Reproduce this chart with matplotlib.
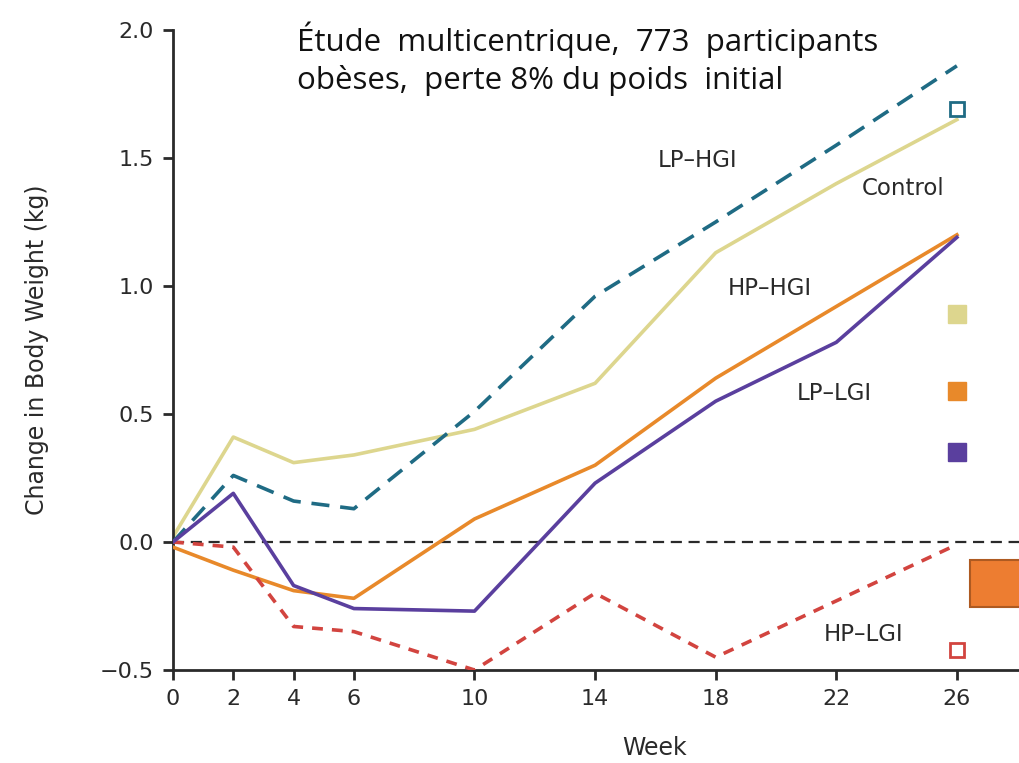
import matplotlib.pyplot as plt
from matplotlib.patches import Rectangle

# ── Data ───────────────────────────────────────────────────────────────────────
WEEKS = [0, 2, 4, 6, 10, 14, 18, 22, 26]

CONTROL = [0.02, 0.41, 0.31, 0.34, 0.44, 0.62, 1.13, 1.40, 1.65]
LP_HGI  = [0.00, 0.26, 0.16, 0.13, 0.51, 0.96, 1.25, 1.55, 1.86]
HP_HGI  = [-0.02, -0.11, -0.19, -0.22, 0.09, 0.30, 0.64, 0.92, 1.20]
LP_LGI  = [0.00, 0.19, -0.17, -0.26, -0.27, 0.23, 0.55, 0.78, 1.19]
HP_LGI  = [0.00, -0.02, -0.33, -0.35, -0.50, -0.20, -0.45, -0.23, -0.01]

Y_TICKS = [-0.5, 0.0, 0.5, 1.0, 1.5, 2.0]

C_CONTROL = "#ddd68e"
C_LPHGI   = "#1f6b84"
C_HPHGI   = "#e8892a"
C_LPLGI   = "#5a3f9e"
C_HPLGI   = "#d2443f"
INK       = "#2a2a2a"

# ── Plot ───────────────────────────────────────────────────────────────────────
fig = plt.figure(figsize=(10.19, 7.63), dpi=100)
ax = fig.add_axes([173 / 1019, 1 - 670 / 763, 1 - 173 / 1019, (670 - 30) / 763])

ax.axhline(0, color=INK, linewidth=1.6, linestyle=(0, (5, 3)), zorder=1)

ax.plot(WEEKS, CONTROL, color=C_CONTROL, linewidth=2.6, zorder=2)
ax.plot(WEEKS, LP_HGI, color=C_LPHGI, linewidth=2.6, linestyle=(0, (5, 3)), zorder=3)
ax.plot(WEEKS, HP_HGI, color=C_HPHGI, linewidth=2.6, zorder=3)
ax.plot(WEEKS, LP_LGI, color=C_LPLGI, linewidth=2.6, zorder=4)
ax.plot(WEEKS, HP_LGI, color=C_HPLGI, linewidth=2.6, linestyle=(0, (3, 2.5)), zorder=3)

ax.set_xlim(0, 28.06)
ax.set_ylim(-0.5, 2.0)
ax.set_xticks(WEEKS)
ax.set_yticks(Y_TICKS)
ax.set_yticklabels([f"{v:.1f}".replace("-", "\u2212") for v in Y_TICKS])
ax.spines["top"].set_visible(False)
ax.spines["right"].set_visible(False)
for s in ("left", "bottom"):
    ax.spines[s].set_linewidth(2.0)
    ax.spines[s].set_color(INK)
ax.tick_params(direction="out", length=7, width=2, colors=INK,
               labelsize=16, pad=7)

ax.set_ylabel("Change in Body Weight (kg)", fontsize=17, color=INK)
ax.yaxis.set_label_coords(-136 / 846, 0.5)
ax.set_xlabel("Week", fontsize=17, color=INK)
ax.xaxis.set_label_coords((655 - 173) / 846, -(748 - 670) / 640)
ax.xaxis.label.set_va("center")
ax.yaxis.label.set_va("center")

# line labels
lab = dict(fontsize=16.5, color=INK, ha="center", va="center")
ax.text(17.4, 1.49, "LP\u2013HGI", **lab)
ax.text(24.2, 1.38, "Control", **lab)
ax.text(19.8, 0.99, "HP\u2013HGI", **lab)
ax.text(21.95, 0.58, "LP\u2013LGI", **lab)
ax.text(22.9, -0.36, "HP\u2013LGI", **lab)

# key markers at the right
ax.plot([26.0], [1.69], marker="s", markersize=10, markerfacecolor="none",
        markeredgecolor=C_LPHGI, markeredgewidth=2, clip_on=False)
ax.plot([26.0], [-0.42], marker="s", markersize=10, markerfacecolor="none",
        markeredgecolor=C_HPLGI, markeredgewidth=2, clip_on=False)
ax.plot([26.0], [0.89], marker="s", markersize=13, color=C_CONTROL, clip_on=False)
ax.plot([26.0], [0.59], marker="s", markersize=13, color=C_HPHGI, clip_on=False)
ax.plot([26.0], [0.35], marker="s", markersize=13, color=C_LPLGI, clip_on=False)

# orange box at the right edge
fig.patches.append(Rectangle((970 / 1019, 1 - 607 / 763), 60 / 1019, 47 / 763,
                             transform=fig.transFigure, facecolor="#ed7d31",
                             edgecolor="#ae5a21", linewidth=1.5))

fig.text(297 / 1019, 1 - 40 / 763,
         "\u00c9tude  multicentrique,  773  participants",
         fontsize=22.5, family="Open Sans", color="#111111", va="center")
fig.text(297 / 1019, 1 - 81 / 763,
         "ob\u00e8ses,  perte 8% du poids  initial",
         fontsize=22.5, family="Open Sans", color="#111111", va="center")

fig.savefig("out.png", dpi=100)
